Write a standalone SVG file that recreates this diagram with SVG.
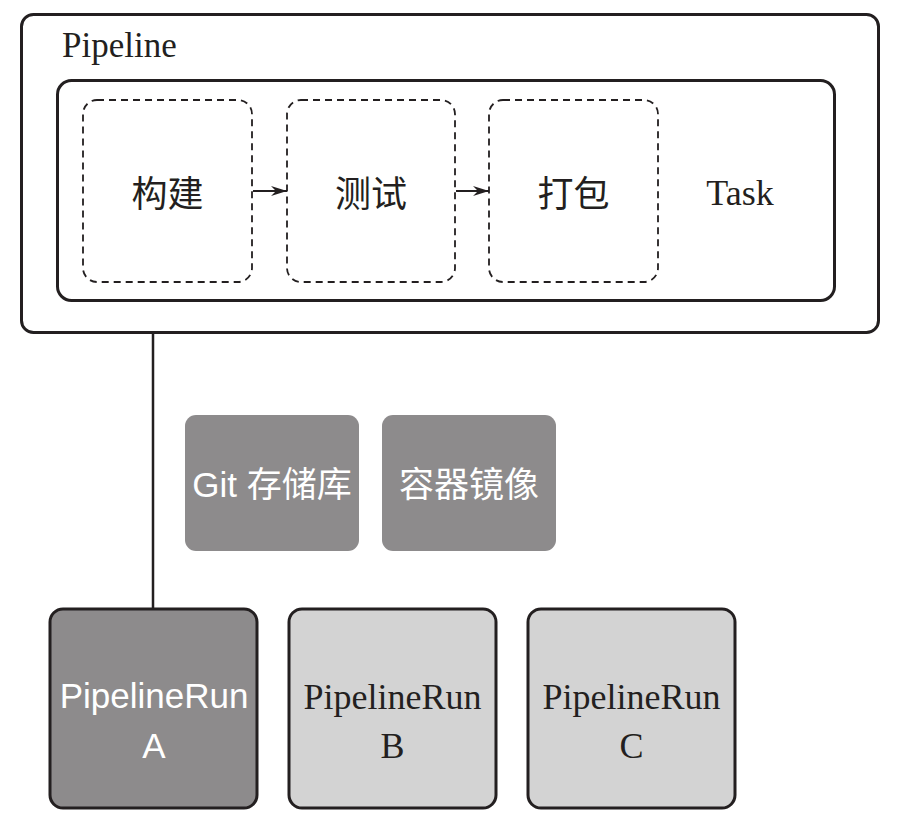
<svg xmlns="http://www.w3.org/2000/svg" width="899" height="824" viewBox="0 0 899 824">
<defs>
<style>
.frame{fill:#fff;stroke:#231f20;stroke-width:3}
.task{fill:none;stroke:#231f20;stroke-width:1.8;stroke-dasharray:7 5}
.res{fill:#8d8b8c;stroke:none}
.runA{fill:#8d8b8c;stroke:#231f20;stroke-width:3}
.runB{fill:#d3d3d3;stroke:#231f20;stroke-width:3}
.serif{font-family:"Liberation Serif","Times New Roman",serif;fill:#231f20}
.cjk{font-family:"Noto Sans CJK SC",sans-serif;fill:#231f20;font-size:36px}
.sansW{font-family:"Liberation Sans","Noto Sans CJK SC",sans-serif;fill:#fff}
.conn{fill:none;stroke:#231f20}
</style>
<marker id="arr" viewBox="0 0 16 10" refX="16" refY="5" markerWidth="16" markerHeight="10" markerUnits="userSpaceOnUse" orient="auto">
<path d="M0,0 L16,5 L0,10 L5,5 Z" fill="#231f20"/>
</marker>
</defs>

<g id="pipeline">
<rect class="frame" x="21.5" y="14.5" width="857" height="318" rx="12"/>
<text class="serif" x="62" y="57" font-size="35">Pipeline</text>
</g>

<g id="task-group">
<rect class="frame" x="57.5" y="80.5" width="777" height="220" rx="14"/>
<text class="serif" x="740" y="205" font-size="36" text-anchor="middle">Task</text>
</g>

<g id="task-build">
<rect class="task" x="83" y="100" width="169" height="182" rx="14"/>
<text class="cjk" x="167.5" y="207" text-anchor="middle">构建</text>
</g>

<g id="task-test">
<rect class="task" x="287" y="100" width="168" height="182" rx="14"/>
<text class="cjk" x="371" y="207" text-anchor="middle">测试</text>
</g>

<g id="task-package">
<rect class="task" x="489" y="100" width="169" height="182" rx="14"/>
<text class="cjk" x="573.5" y="207" text-anchor="middle">打包</text>
</g>

<g id="git-repo">
<rect class="res" x="185" y="415" width="174" height="136" rx="11"/>
<text class="sansW" x="272" y="497" font-size="35" text-anchor="middle">Git 存储库</text>
</g>

<g id="image">
<rect class="res" x="382" y="415" width="174" height="136" rx="11"/>
<text class="sansW" x="469" y="497" font-size="35" text-anchor="middle">容器镜像</text>
</g>

<g id="run-a">
<rect class="runA" x="50" y="609" width="207" height="199" rx="13"/>
<text class="sansW" x="154" y="708" font-size="35" text-anchor="middle">PipelineRun</text>
<text class="sansW" x="154" y="758" font-size="35" text-anchor="middle">A</text>
</g>

<g id="run-b">
<rect class="runB" x="289" y="609" width="207" height="199" rx="13"/>
<text class="serif" x="392.5" y="709" font-size="36" text-anchor="middle">PipelineRun</text>
<text class="serif" x="392.5" y="758" font-size="36" text-anchor="middle">B</text>
</g>

<g id="run-c">
<rect class="runB" x="528" y="609" width="207" height="199" rx="13"/>
<text class="serif" x="631.5" y="709" font-size="36" text-anchor="middle">PipelineRun</text>
<text class="serif" x="631.5" y="758" font-size="36" text-anchor="middle">C</text>
</g>

<g id="connectors">
<line class="conn" x1="253" y1="191" x2="287" y2="191" stroke-width="1.8" marker-end="url(#arr)"/>
<line class="conn" x1="456" y1="191" x2="489" y2="191" stroke-width="1.8" marker-end="url(#arr)"/>
<line class="conn" x1="153" y1="334" x2="153" y2="608" stroke-width="2.5"/>
</g>
</svg>
